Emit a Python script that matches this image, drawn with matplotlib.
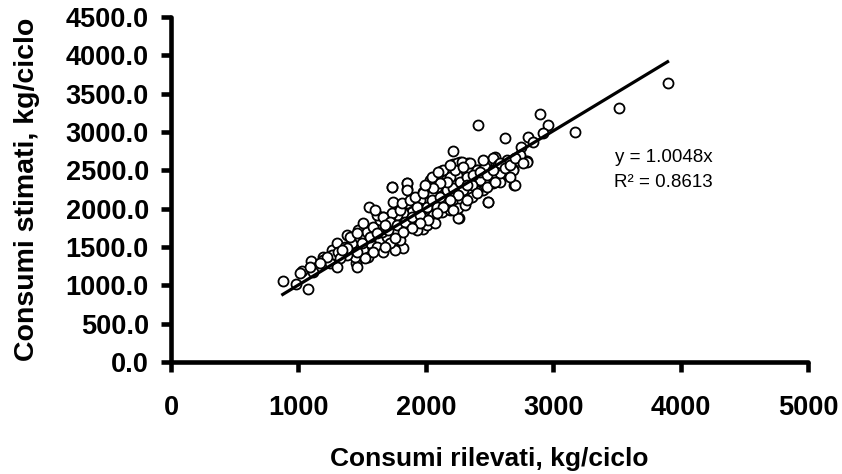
import matplotlib
matplotlib.use("Agg")
import matplotlib.pyplot as plt
import numpy as np

# consumi rilevati (x) e stimati (y), kg/ciclo
x_obs = [
    877, 981, 1078, 1026, 1096, 1191, 1266, 1305, 1379, 1450, 1458, 1552,
    1735, 1850, 1850, 1824, 1758, 2216, 2407, 2624, 2896, 2962, 3169, 2792,
    2695, 2491, 2261, 1976, 2802, 2747, 2844, 2923, 3898, 3519, 2786,
    2543, 2472, 2399, 2334, 2268, 2216, 2792, 2687, 2700, 2622, 2582, 2525,
    2457, 2452, 2399, 2491, 2334, 2281, 2242, 2164, 2117, 2059, 2033, 1981,
    2111, 2190, 2268, 2321, 2360, 2203, 2138, 2072, 2020, 1954, 1902, 1850,
    1797, 1745, 1732, 1850, 1850, 1954, 1889, 1824, 1771, 1719, 1667, 1654,
    1706, 1771, 1837, 1902, 1981, 2059, 2125, 2190, 2255, 1928, 1876, 2007,
    2072, 1797, 1732, 1667, 2255, 2308,
    1196, 1261, 1313, 1366, 1418, 1483, 1405, 1470, 1536, 1588, 1510, 1640,
    1562, 1640, 1693, 1758, 1614, 1510, 1444, 1379, 1326, 1248, 1143, 1117,
    1300, 1549, 1666, 1719, 1797, 1732, 1797, 1810, 1876, 1928, 1915, 1980,
    2033, 2085,
    2242, 2281, 2347, 2399, 2464, 2530, 2582, 2635, 2687, 2739, 2569, 2425,
    2360, 2295, 2190, 2137,
    1614, 1667, 1719, 1601, 1653, 1706, 1771, 1837, 1889, 1954, 2007, 2046,
    2111, 2164, 2216, 2268, 2321, 2373, 2425, 2477, 2530, 2582, 2621, 2661,
    2700, 2765, 2085, 2020, 1954, 1889, 1824, 1758, 1680, 1588, 1523, 1457,
    1379, 1497, 1562, 1614, 1680, 1457, 1339, 1222, 1169, 1013, 1091, 2164,
    2111, 2059, 1994, 2046, 2098, 2229, 2294, 2190, 2321, 2255, 2190, 2137,
    2085, 2216, 2321, 2399, 2477, 2543, 2661, 2451,
]
y_est = [
    1056, 1013, 956, 1191, 1313, 1370, 1465, 1556, 1656, 1287, 1243, 2018,
    2278, 2331, 2256, 1482, 1461, 2756, 3091, 2926, 3235, 3091, 3000, 2622,
    2304, 2090, 1874, 1730, 2930, 2809, 2874, 2982, 3643, 3309, 2626,
    2669, 2600, 2504, 2591, 2613, 2578, 2613, 2513, 2309, 2461, 2352, 2339,
    2352, 2243, 2235, 2091, 2330, 2352, 2439, 2396, 2495, 2374, 2309, 2222,
    2265, 2265, 2200, 2222, 2156, 2091, 2069, 2048, 2091, 2113, 2048, 2069,
    2048, 2091, 2287, 2330, 2243, 2004, 1961, 1939, 1917, 1852, 1895, 1765,
    1722, 1765, 1765, 1852, 1895, 1917, 1961, 1982, 1874, 1722, 1787, 1787,
    1809, 1656, 1656, 1656, 2004, 2048,
    1330, 1395, 1439, 1504, 1547, 1613, 1634, 1721, 1700, 1765, 1808, 1852,
    1547, 1591, 1634, 1678, 1504, 1461, 1374, 1395, 1352, 1287, 1243, 1178,
    1243, 1374, 1439, 1547, 1591, 1939, 1982, 2069, 2113, 2026, 2156, 2200,
    2374, 2287,
    2591, 2613, 2591, 2504, 2547, 2656, 2461, 2634, 2504, 2700, 2569, 2374,
    2308, 2243, 2417, 2504,
    1917, 1895, 1830, 1982, 1700, 1721, 1787, 1830, 1895, 1917, 2026, 2113,
    2156, 2243, 2265, 2352, 2417, 2439, 2482, 2439, 2504, 2591, 2526, 2569,
    2656, 2591, 2026, 1852, 1808, 1743, 1700, 1613, 1504, 1439, 1352, 1439,
    1482, 1547, 1634, 1678, 1787, 1678, 1461, 1374, 1287, 1156, 1243, 2352,
    2330, 2265, 2308, 2417, 2482, 2504, 2547, 2569, 2308, 2178, 2113, 2026,
    1939, 1982, 2113, 2200, 2287, 2352, 2417, 2634,
]

slope = 1.0048
r2 = 0.8613

plt.rcParams["font.family"] = ["Liberation Sans", "DejaVu Sans"]

fig = plt.figure(figsize=(8.42, 4.74), dpi=100)
ax = fig.add_axes([0.2031, 0.2363, 0.7565, 0.7278])

ax.scatter(x_obs, y_est, s=52, facecolors="white", edgecolors="black",
           linewidths=1.3, zorder=2)

# linea di tendenza passante per l'origine
xl = np.array([min(x_obs), max(x_obs)])
ax.plot(xl, slope * xl, color="black", lw=2.3, zorder=3)

ax.set_xlim(0, 5000)
ax.set_ylim(0, 4500)
ax.set_xticks(np.arange(0, 5001, 1000))
ax.set_yticks(np.arange(0, 4501, 500))
ax.set_yticklabels(["%.1f" % v for v in np.arange(0, 4501, 500)])

for side in ["top", "right"]:
    ax.spines[side].set_visible(False)
for side in ["left", "bottom"]:
    ax.spines[side].set_linewidth(3.3)
    ax.spines[side].set_capstyle("round")

ax.tick_params(axis="both", direction="out", length=7, width=3.3,
               labelsize=19.5)
ax.tick_params(axis="x", pad=17)
ax.tick_params(axis="y", pad=9)
for lab in ax.get_xticklabels() + ax.get_yticklabels():
    lab.set_fontweight("bold")

fig.text(0.5814, 0.032, "Consumi rilevati, kg/ciclo", ha="center",
         va="center", fontsize=19, fontweight="bold")
fig.text(0.032, 0.601, "Consumi stimati, kg/ciclo", ha="center",
         va="center", rotation=90, fontsize=20.5, fontweight="bold")

ax.text(4254, 2661, "y = %.4fx" % slope, ha="right", va="center",
        fontsize=13.5)
ax.text(4254, 2335, "R\u00b2 = %.4f" % r2, ha="right", va="center",
        fontsize=13.5)

fig.savefig("out.png", dpi=100)
